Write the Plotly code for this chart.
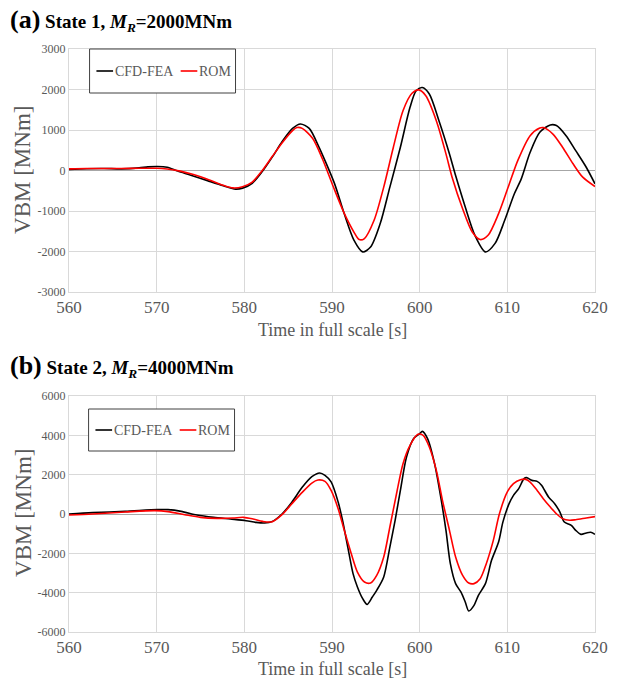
import plotly.graph_objects as go

# ---------------- data ----------------
# (a) State 1, M_R = 2000 MNm
a_t_cfd = [560, 562, 564, 566, 568, 569, 570.1, 571.2, 572.4, 573.9, 575.8, 577.6, 579.0, 579.8,
           580.9, 582.0, 583.2, 584.3, 585.5, 586.4, 587.4, 588.5, 589.2, 590.3, 591.4, 592.5,
           593.5, 594.4, 595.5, 596.6, 597.8, 598.9, 599.6, 600.3, 601.1, 602.2, 603.4, 604.1,
           605.2, 606.3, 607.5, 608.6, 609.7, 610.8, 611.6, 612.6, 613.7, 614.9, 615.6, 616.7,
           617.8, 619.0, 620]
a_v_cfd = [25, 45, 50, 40, 65, 90, 100, 80, -15, -115, -250, -375, -460, -435,
           -315, -40, 335, 710, 1040, 1150, 1040, 585, 245, -330, -1070, -1720,
           -2010, -1890, -1310, -410, 575, 1560, 1970, 2050, 1890, 1230, 410, -125,
           -900, -1600, -2010, -1800, -1230, -575, -200, 450, 945, 1125, 1110, 860,
           490, 80, -330]

a_t_rom = [560, 562, 564, 566, 568, 570, 571.2, 572.7, 574.2, 575.8, 577.6, 578.7, 579.8, 580.9,
           582.0, 583.2, 584.3, 585.5, 586.0, 586.6, 587.8, 588.9, 590.1, 591.4, 592.5, 593.1,
           593.7, 594.8, 595.9, 597.0, 598.1, 599.1, 599.9, 600.7, 601.9, 603.0, 603.7, 604.9,
           606.0, 606.9, 607.8, 609.0, 610.1, 611.2, 612.6, 613.7, 614.1, 615.2, 616.3, 617.5,
           618.6, 620]
a_v_rom = [40, 50, 50, 50, 55, 55, 35, -15, -100, -215, -365, -430, -400, -285,
           -15, 350, 680, 985, 1060, 1040, 790, 290, -375, -1060, -1520, -1705,
           -1680, -1230, -410, 575, 1475, 1900, 1990, 1845, 1230, 410, -165, -945,
           -1520, -1705, -1600, -1065, -410, 250, 860, 1050, 1060, 900, 575, 165,
           -165, -395]

# (b) State 2, M_R = 4000 MNm
b_t_cfd = [560, 562.7, 566.4, 570.1, 571.3, 572.8, 574.6, 576.5, 578.4, 580.2, 581.3, 582.3,
           583.2, 584.3, 585.4, 586.6, 587.7, 588.6, 589.2, 589.9, 590.7, 591.2, 591.8, 592.4,
           592.9, 593.5, 594.0, 594.6, 595.1, 595.9, 596.6, 597.2, 597.8, 598.5, 599.3, 600.0,
           600.3, 600.9, 601.7, 602.4, 603.0, 603.5, 604.1, 604.7, 605.2, 605.6, 606.2, 606.7,
           607.5, 608.2, 609.0, 609.5, 610.2, 610.7, 611.3, 611.9, 612.2, 612.8, 613.4, 613.9,
           614.7, 615.4, 616.0, 616.5, 617.3, 617.8, 618.4, 619.0, 619.5, 620]
b_v_cfd = [0, 70, 135, 220, 220, 135, -50, -170, -255, -340, -425, -460,
           -375, 0, 590, 1355, 1900, 2085, 1965, 1630, 610, -320, -1680, -3030,
           -3710, -4305, -4595, -4220, -3880, -3200, -1680, -320, 1200, 2900, 3830, 4085,
           4200, 3830, 2560, 865, -830, -2525, -3540, -3965, -4475, -4930, -4645, -4135,
           -3540, -2355, -1425, -400, 525, 950, 1290, 1795, 1850, 1710, 1660, 1460,
           865, 525, 100, -405, -575, -830, -1035, -965, -930, -1035]

b_t_rom = [560, 562.7, 566.4, 569.8, 571.3, 573.2, 575.0, 576.9, 578.7, 579.9, 581.0, 582.1,
           583.2, 584.3, 585.4, 586.6, 587.7, 588.4, 589.2, 589.9, 590.7, 591.4, 592.2, 592.9,
           593.7, 594.4, 595.1, 595.9, 596.6, 597.4, 598.1, 598.9, 599.8, 600.4, 601.1, 601.9,
           602.6, 603.4, 604.1, 604.9, 605.6, 606.2, 606.9, 607.6, 608.4, 609.1, 610.0, 610.7,
           611.5, 612.1, 612.6, 613.4, 614.1, 614.9, 615.6, 616.3, 617.1, 617.8, 619.0, 620]
b_v_rom = [-50, 0, 100, 170, 120, -35, -170, -220, -205, -170, -255, -375,
           -390, -35, 510, 1100, 1575, 1730, 1660, 1200, 270, -830, -2020, -2950,
           -3460, -3510, -3120, -2185, -660, 1120, 2560, 3490, 4050, 4000, 3410, 2220,
           695, -830, -2185, -3120, -3510, -3540, -3290, -2525, -1340, 15, 1120, 1540,
           1745, 1760, 1625, 1200, 780, 355, 15, -235, -320, -290, -205, -135]

x_ticks = [560, 570, 580, 590, 600, 610, 620]
a_y_ticks = [-3000, -2000, -1000, 0, 1000, 2000, 3000]
a_y_labels = ["-3000", "-2000", "-1000", "0", "1000", "2000", "3000"]
b_y_ticks = [-6000, -4000, -2000, 0, 2000, 4000, 6000]
b_y_labels = ["-6000", "-4000", "-2000", "0", "2000", "4000", "6000"]

series_names = ["CFD-FEA", "ROM"]
series_colors = ["#000000", "#ff0000"]

# ---------------- figure ----------------
SERIF = "Liberation Serif"
GREY = "#595959"
W, H = 620, 680
ML, MR, MT, MB = 69, 14, 49, 48
PW, PH = W - ML - MR, H - MT - MB


def px_x(p):
    return (p - ML) / PW


def px_y(p):
    return (H - MB - p) / PH


fig = go.Figure()

panels = [
    ("x", "y", a_t_cfd, a_v_cfd, a_t_rom, a_v_rom),
    ("x2", "y2", b_t_cfd, b_v_cfd, b_t_rom, b_v_rom),
]
for xa, ya, tc, vc, tr, vr in panels:
    for t, v, name, col in [(tc, vc, series_names[0], series_colors[0]),
                            (tr, vr, series_names[1], series_colors[1])]:
        fig.add_trace(go.Scatter(
            x=t, y=v, name=name, mode="lines", xaxis=xa, yaxis=ya,
            line=dict(color=col, width=1.6, shape="spline", smoothing=0.8),
            showlegend=False, hoverinfo="skip",
        ))

top_dom = [px_y(292), 1.0]
bot_dom = [0.0, px_y(396)]

xaxis_common = dict(
    range=[560, 620], tickvals=x_ticks, ticktext=[str(v) for v in x_ticks],
    showgrid=True, gridcolor="#d9d9d9", gridwidth=1,
    showline=True, linecolor="#d9d9d9", linewidth=1, mirror=True,
    zeroline=False, ticks="", tickfont=dict(family=SERIF, size=17, color=GREY),
)
yaxis_common = dict(
    showgrid=True, gridcolor="#d9d9d9", gridwidth=1,
    showline=True, linecolor="#d9d9d9", linewidth=1, mirror=True,
    zeroline=True, zerolinecolor="#a6a6a6", zerolinewidth=1,
    ticks="", tickfont=dict(family=SERIF, size=12, color=GREY),
)

fig.update_layout(
    width=W, height=H,
    margin=dict(l=ML, r=MR, t=MT, b=MB),
    paper_bgcolor="white", plot_bgcolor="white",
    xaxis=dict(domain=[0, 1], anchor="y", **xaxis_common),
    yaxis=dict(domain=top_dom, anchor="x", range=[-3000, 3000],
               tickvals=a_y_ticks, ticktext=a_y_labels, **yaxis_common),
    xaxis2=dict(domain=[0, 1], anchor="y2", **xaxis_common),
    yaxis2=dict(domain=bot_dom, anchor="x2", range=[-6000, 6000],
                tickvals=b_y_ticks, ticktext=b_y_labels, **yaxis_common),
)

annotations = []
shapes = []

# panel headings
for label, state, mr, ycen in [("(a)", "State 1", "2000MNm", 20), ("(b)", "State 2", "4000MNm", 366)]:
    annotations.append(dict(
        xref="paper", yref="paper", x=px_x(7), y=px_y(ycen), xanchor="left", yanchor="middle",
        text=(f"<b><span style='font-size:26px'>{label}</span> {state}, "
              f"<i>M<sub>R</sub></i>={mr}</b>"),
        showarrow=False, font=dict(family=SERIF, size=19, color="#000000"),
    ))

# axis titles
for ymid, xtitle_y in [(170, 330), (513, 669)]:
    annotations.append(dict(
        xref="paper", yref="paper", x=px_x(22), y=px_y(ymid), xanchor="center", yanchor="middle",
        text="VBM [MNm]", textangle=-90, showarrow=False,
        font=dict(family=SERIF, size=23, color=GREY),
    ))
    annotations.append(dict(
        xref="paper", yref="paper", x=0.5, y=px_y(xtitle_y), xanchor="center", yanchor="middle",
        text="Time in full scale [s]", showarrow=False,
        font=dict(family=SERIF, size=18, color=GREY),
    ))

# legend boxes with line keys
for (bx0, by0, bx1, by1) in [(90, 49, 239, 93), (89, 409, 238, 451)]:
    shapes.append(dict(type="rect", xref="paper", yref="paper",
                       x0=px_x(bx0), x1=px_x(bx1), y0=px_y(by1), y1=px_y(by0),
                       line=dict(color="#404040", width=1), fillcolor="white", layer="above"))
    yc = (by0 + by1) / 2
    key_x = [(bx0 + 7, bx0 + 24), (bx0 + 93, bx0 + 110)]
    text_x = [bx0 + 24, bx0 + 110]
    for (k0, k1), tx, name, col in zip(key_x, text_x, series_names, series_colors):
        shapes.append(dict(type="line", xref="paper", yref="paper",
                           x0=px_x(k0), x1=px_x(k1), y0=px_y(yc), y1=px_y(yc),
                           line=dict(color=col, width=1.6), layer="above"))
        annotations.append(dict(
            xref="paper", yref="paper", x=px_x(tx), y=px_y(yc), xanchor="left", yanchor="middle",
            text=name, showarrow=False, font=dict(family=SERIF, size=14, color=GREY),
        ))

fig.update_layout(annotations=annotations, shapes=shapes)

fig.write_html("out.html")
